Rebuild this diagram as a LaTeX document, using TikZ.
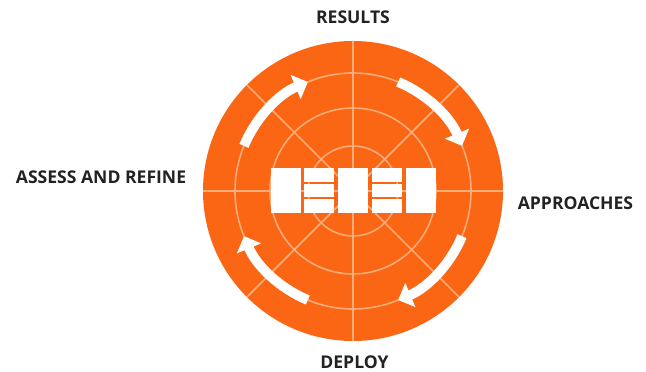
\documentclass[tikz,border=0pt]{standalone}
\usepackage{fontspec}
\setmainfont{Open Sans}
\usetikzlibrary{arrows.meta,calc}

\definecolor{wheelorange}{RGB}{250,102,20}
\definecolor{gridline}{RGB}{250,172,122}
\definecolor{labelgray}{RGB}{34,34,34}

\begin{document}
\begin{tikzpicture}[
    x=0.02cm, y=0.02cm,
    stage/.style={font=\bfseries\fontsize{10}{11}\selectfont, text=labelgray, inner sep=0pt},
    grid/.style={draw=gridline, line width=0.9pt},
    cycle/.style={draw=white, line width=5.6pt, -{Triangle[width=14.5pt, length=7.5pt]}},
    cell/.style={fill=white}
]
    \useasboundingbox (0,0) rectangle (646,372);

    % the wheel
    \coordinate (c) at (353,181);
    \fill[wheelorange] (c) circle[radius=150];
    \foreach \r in {45,83,118}
        \draw[grid] (c) circle[radius=\r];
    \foreach \a in {0,45,...,135}
        \draw[grid] ($(c)+(\a:150)$) -- ($(c)+(\a+180:150)$);

    % arrows going round
    \foreach \a in {67.5,-22.5,-112.5,-202.5}
        \draw[cycle] (c) ++(\a:118) arc[start angle=\a, end angle=\a-45, radius=118];

    % the block in the middle
    \foreach \i in {0,...,4} {
        \pgfmathsetmacro\xl{270.5+\i*33.75}
        \ifodd\i
            \foreach \j in {0,1,2}
                \fill[cell] (\xl,{204-\j*15.67}) rectangle ++(30,-13.67);
        \else
            \fill[cell] (\xl,204) rectangle ++(30,-45);
        \fi
    }

    \node[stage] (results) at (353,355) {RESULTS};
    \node[stage] (approaches) at (575.5,169) {APPROACHES};
    \node[stage] (deploy) at (354.5,10) {DEPLOY};
    \node[stage] (assess) at (101,194.5) {ASSESS AND REFINE};
\end{tikzpicture}
\end{document}
